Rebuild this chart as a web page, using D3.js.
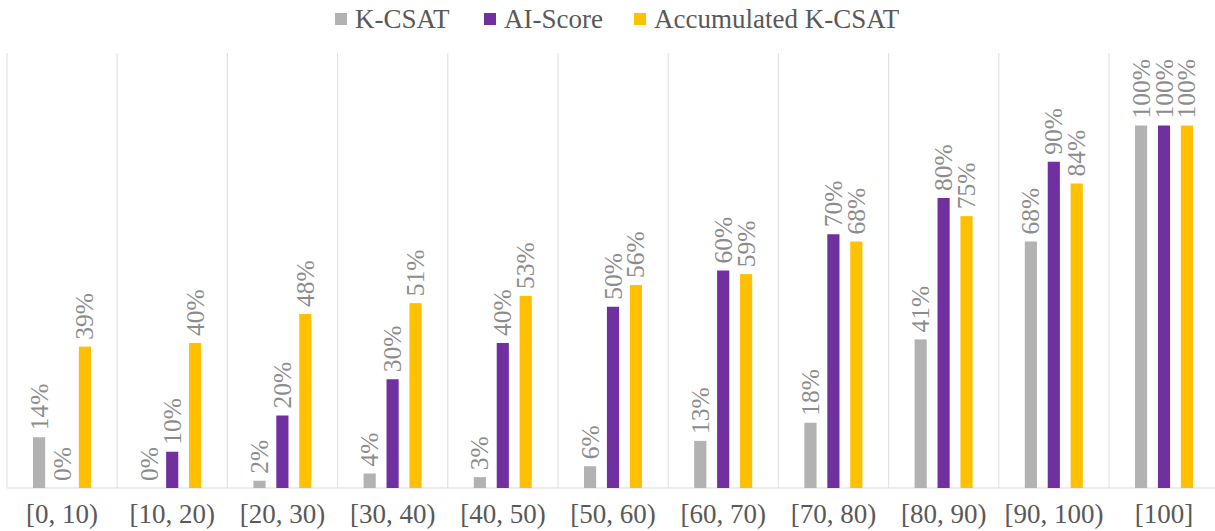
<!DOCTYPE html>
<html>
<head>
<meta charset="utf-8">
<script src="https://cdn.jsdelivr.net/npm/d3@7"></script>
<style>
  body { margin: 0; background: #fff; }
</style>
</head>
<body>
<div id="chart"></div>
<script>
// data
const categories = ["[0, 10)", "[10, 20)", "[20, 30)", "[30, 40)", "[40, 50)", "[50, 60)",
                    "[60, 70)", "[70, 80)", "[80, 90)", "[90, 100)", "[100]"];
const seriesNames = ["K-CSAT", "AI-Score", "Accumulated K-CSAT"];
const kcsat = [14, 0, 2, 4, 3, 6, 13, 18, 41, 68, 100];
const aiScore = [0, 10, 20, 30, 40, 50, 60, 70, 80, 90, 100];
const accumulated = [39, 40, 48, 51, 53, 56, 59, 68, 75, 84, 100];
const seriesColors = ["#b2b2b2", "#7030a0", "#ffc000"];

const fontFam = "\"Liberation Serif\", \"Times New Roman\", serif";
const width = 1215;
const height = 531;
const margins = { top: 53, bottom: 43, left: 7 };
const step = 110.2;

const rows = categories.map((c, i) => ({
  cat: c,
  vals: [kcsat[i], aiScore[i], accumulated[i]]
}));

//SCALES
const xScale = d3.scaleBand()
  .domain(categories)
  .range([margins.left, margins.left + step * categories.length])
  .padding(0);

const xSub = d3.scaleBand()
  .domain(seriesNames)
  .range([26, 84])
  .paddingInner(0.47);

const yScale = d3.scaleLinear()
  .domain([0, 120])
  .range([height - margins.bottom, margins.top]);

const svg = d3.select("#chart")
  .append("svg")
  .attr("width", width)
  .attr("height", height)
  .style("font-family", fontFam);

// vertical separators
svg.selectAll("line.grid")
  .data(categories)
  .join("line")
  .attr("class", "grid")
  .attr("x1", d => xScale(d))
  .attr("x2", d => xScale(d))
  .attr("y1", margins.top)
  .attr("y2", yScale(0))
  .attr("stroke", "#e3e3e3")
  .attr("stroke-width", 1.2);

// baseline
svg.append("line")
  .attr("x1", margins.left)
  .attr("x2", width)
  .attr("y1", yScale(0))
  .attr("y2", yScale(0))
  .attr("stroke", "#d9d9d9")
  .attr("stroke-width", 1.2);

const groups = svg.selectAll("g.cat")
  .data(rows)
  .join("g")
  .attr("class", "cat")
  .attr("transform", d => `translate(${xScale(d.cat)},0)`);

const cells = d => d.vals.map((v, j) => ({ name: seriesNames[j], v: v, color: seriesColors[j] }));

groups.selectAll("rect")
  .data(cells)
  .join("rect")
  .attr("x", d => xSub(d.name))
  .attr("y", d => yScale(d.v))
  .attr("width", xSub.bandwidth())
  .attr("height", d => yScale(0) - yScale(d.v))
  .attr("fill", d => d.color);

// value labels, rotated
groups.selectAll("text.val")
  .data(cells)
  .join("text")
  .attr("class", "val")
  .attr("transform", d => `translate(${xSub(d.name) + xSub.bandwidth() / 2},${yScale(d.v) - 7}) rotate(-90)`)
  .attr("dominant-baseline", "central")
  .style("font-size", "25.5px")
  .attr("fill", "#8c8c8c")
  .text(d => d.v + "%");

// category labels
svg.selectAll("text.catlabel")
  .data(categories)
  .join("text")
  .attr("class", "catlabel")
  .attr("x", d => xScale(d) + xScale.bandwidth() / 2)
  .attr("y", 523)
  .attr("text-anchor", "middle")
  .style("font-size", "27px")
  .attr("fill", "#595959")
  .text(d => d);

// legend
const legendX = [335, 484, 634];
const legend = svg.selectAll("g.legend")
  .data(seriesNames)
  .join("g")
  .attr("class", "legend")
  .attr("transform", (d, i) => `translate(${legendX[i]},0)`);

legend.append("rect")
  .attr("x", 0)
  .attr("y", 13)
  .attr("width", 12)
  .attr("height", 12)
  .attr("fill", (d, i) => seriesColors[i]);

legend.append("text")
  .attr("x", 20)
  .attr("y", 28)
  .style("font-size", "27px")
  .attr("fill", "#595959")
  .text(d => d);
</script>
</body>
</html>
